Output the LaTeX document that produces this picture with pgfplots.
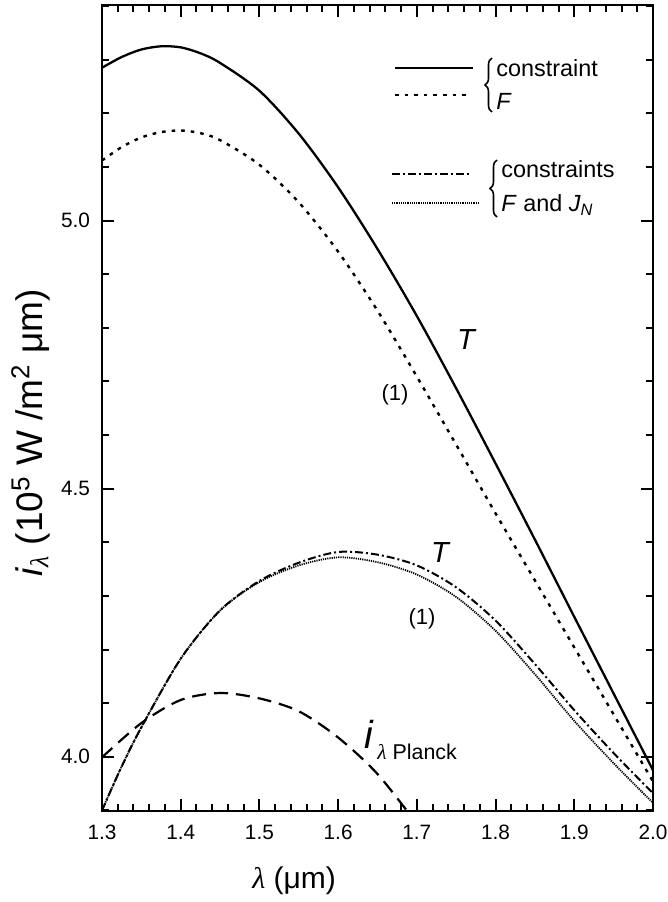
\documentclass[border=0pt]{standalone}
\usepackage{fontspec}
\setmainfont{Liberation Sans}
\newfontfamily\lamfont{Liberation Serif}
\usepackage{pgfplots}
\pgfplotsset{compat=1.18}
\usetikzlibrary{decorations.pathreplacing}

\pgfplotstableread{
x y
1.30 5.285
1.325 5.305
1.35 5.319
1.375 5.325
1.40 5.323
1.425 5.312
1.45 5.294
1.50 5.242
1.55 5.162
1.60 5.062
1.65 4.947
1.70 4.822
1.75 4.687
1.80 4.547
1.85 4.405
1.90 4.261
1.95 4.118
2.00 3.975
}\solidF

\pgfplotstableread{
x y
1.30 5.112
1.325 5.137
1.35 5.155
1.375 5.165
1.40 5.168
1.425 5.163
1.45 5.150
1.50 5.104
1.55 5.034
1.60 4.942
1.65 4.832
1.70 4.709
1.75 4.582
1.80 4.454
1.85 4.329
1.90 4.204
1.95 4.079
2.00 3.954
}\dotF

\pgfplotstableread{
x y
1.30 3.900
1.325 3.982
1.35 4.055
1.40 4.183
1.45 4.273
1.50 4.326
1.55 4.357
1.60 4.372
1.65 4.363
1.70 4.340
1.75 4.298
1.80 4.235
1.85 4.154
1.90 4.067
1.95 3.988
2.00 3.914
}\fineFJ

\pgfplotstableread{
x y
1.30 3.900
1.325 3.982
1.35 4.055
1.40 4.183
1.45 4.273
1.50 4.328
1.55 4.362
1.60 4.382
1.65 4.377
1.70 4.357
1.75 4.316
1.80 4.254
1.85 4.173
1.90 4.087
1.95 4.007
2.00 3.932
}\dashdotFJ

\pgfplotstableread{
x y
1.30 3.999
1.35 4.063
1.40 4.106
1.45 4.119
1.50 4.109
1.55 4.085
1.60 4.036
1.65 3.968
1.70 3.875
}\planck

\begin{document}
\begin{tikzpicture}
\useasboundingbox (0,0) rectangle (334pt,451pt);
\begin{axis}[
  at={(51pt,45.5pt)}, anchor=south west,
  scale only axis, width=275.5pt, height=403pt,
  xmin=1.3, xmax=2.0, ymin=3.899, ymax=5.402,
  xtick={1.3,1.4,1.5,1.6,1.7,1.8,1.9,2.0},
  minor x tick num=4,
  ytick={4.0,4.5,5.0},
  minor ytick={3.9,4.1,4.2,4.3,4.4,4.6,4.7,4.8,4.9,5.1,5.2,5.3,5.4},
  tick align=inside,
  major tick length=6pt, minor tick length=3.5pt,
  axis line style={line width=1.2pt},
  every tick/.style={line width=1pt, black},
  /pgf/number format/assume math mode=true,
  /pgf/number format/fixed, /pgf/number format/precision=1,
  /pgf/number format/fixed zerofill,
  tick label style={font=\fontsize{10.4}{12}\selectfont},
  xticklabel style={yshift=-3.5pt},
  yticklabel style={xshift=-2.5pt},
  clip=true,
]
\addplot[black, line width=1.15pt, smooth] table {\solidF};
\addplot[black, line width=1.2pt, dash pattern=on 1.8pt off 3pt, smooth] table {\dotF};
\addplot[black, line width=1pt, dash pattern=on 4pt off 1.5pt on 1pt off 1.5pt, smooth] table {\dashdotFJ};
\addplot[black, line width=0.9pt, dash pattern=on 0.6pt off 0.5pt, smooth] table {\fineFJ};
\addplot[black, line width=1.1pt, dash pattern=on 7pt off 4pt, smooth] table {\planck};
\end{axis}

% legend
\draw[black, line width=1.15pt] (197.5pt,417pt) -- (236.5pt,417pt);
\draw[black, line width=1.2pt, dash pattern=on 1.8pt off 3pt] (197.5pt,403.5pt) -- (235pt,403.5pt);
\draw[black, line width=0.8pt, decorate, decoration={brace, amplitude=3.5pt}] (246pt,395pt) -- (246pt,422pt);
\node[anchor=base west, inner sep=0pt, font=\fontsize{11.7}{14}\selectfont] at (248pt,412.5pt) {constraint};
\node[anchor=base west, inner sep=0pt, font=\fontsize{11.7}{14}\selectfont] at (248pt,396pt) {\textit{F}};

\draw[black, line width=1pt, dash pattern=on 4pt off 1.5pt on 1pt off 1.5pt] (196pt,364pt) -- (235pt,364pt);
\draw[black, line width=0.9pt, dash pattern=on 0.6pt off 0.5pt] (196pt,349.5pt) -- (239.5pt,349.5pt);
\draw[black, line width=0.8pt, decorate, decoration={brace, amplitude=3.5pt}] (248.5pt,342.5pt) -- (248.5pt,371pt);
\node[anchor=base west, inner sep=0pt, font=\fontsize{11.7}{14}\selectfont] at (250.5pt,362pt) {constraints};
\node[anchor=base west, inner sep=0pt, font=\fontsize{11.7}{14}\selectfont] at (250.5pt,345pt) {\textit{F} and \textit{J}\textsubscript{\textit{N}}};

% annotations
\node[anchor=base, inner sep=0pt, font=\fontsize{14.5}{16}\selectfont\itshape] at (233pt,276pt) {T};
\node[anchor=base, inner sep=0pt, font=\fontsize{11}{13}\selectfont] at (197.5pt,250.5pt) {(1)};
\node[anchor=base, inner sep=0pt, font=\fontsize{14.5}{16}\selectfont\itshape] at (220pt,169.5pt) {T};
\node[anchor=base, inner sep=0pt, font=\fontsize{11}{13}\selectfont] at (211pt,139pt) {(1)};
\node[anchor=base west, inner sep=0pt, font=\fontsize{19.5}{22}\selectfont\itshape] at (182pt,77pt) {i};
\node[anchor=base west, inner sep=0pt, font=\fontsize{10.7}{13}\selectfont] at (188.5pt,71pt) {{\lamfont\itshape λ} Planck};

% axis labels
\node[anchor=base west, inner sep=0pt, font=\fontsize{15}{18}\selectfont] at (126pt,6.5pt) {{\lamfont\itshape λ} (μm)};
\node[anchor=base west, inner sep=0pt, rotate=90, font=\fontsize{18.5}{22}\selectfont] at (21pt,162.5pt) {\textit{i}\textsubscript{\lamfont\itshape λ} (10\textsuperscript{5} W /m\textsuperscript{2} μm)};
\end{tikzpicture}
\end{document}
